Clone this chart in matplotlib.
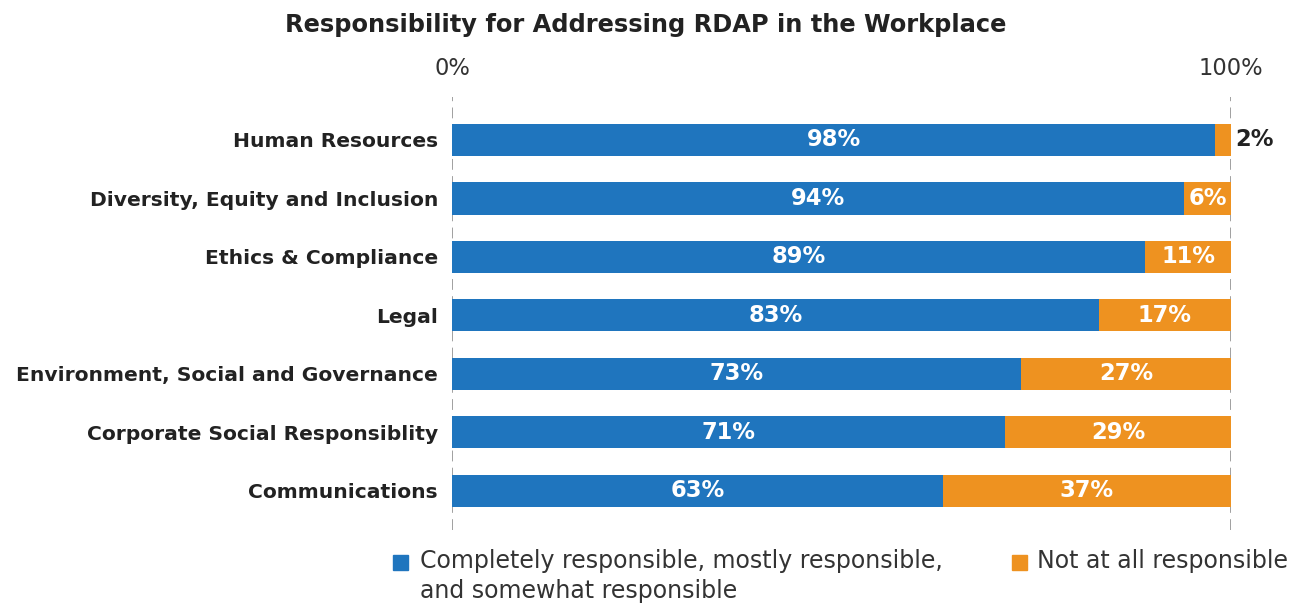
import matplotlib
matplotlib.use('Agg')
import matplotlib.pyplot as plt
from matplotlib.patches import Rectangle

categories = [
    'Human Resources',
    'Diversity, Equity and Inclusion',
    'Ethics & Compliance',
    'Legal',
    'Environment, Social and Governance',
    'Corporate Social Responsiblity',
    'Communications',
]
responsible = [98, 94, 89, 83, 73, 71, 63]
not_responsible = [2, 6, 11, 17, 27, 29, 37]
legend_labels = ['Completely responsible, mostly responsible,\nand somewhat responsible',
                 'Not at all responsible']

BLUE = '#1f75be'
ORANGE = '#ee9220'
DARK = '#222222'

plt.rcParams['font.family'] = ['DejaVu Sans']

fig = plt.figure(figsize=(12.99, 6.03), dpi=100)
ax = fig.add_axes([452 / 1299, 73 / 603, 779 / 1299, 433 / 603])

y = list(range(len(categories)))
ax.barh(y, responsible, height=0.55, color=BLUE)
ax.barh(y, not_responsible, left=responsible, height=0.55, color=ORANGE)

for i, (a, b) in enumerate(zip(responsible, not_responsible)):
    ax.text(a / 2, i, f'{a}%', ha='center', va='center', color='white',
            fontsize=16.3, fontweight='bold')
    if b >= 5:
        ax.text(a + b / 2, i, f'{b}%', ha='center', va='center', color='white',
                fontsize=16.3, fontweight='bold')
    else:
        ax.text(100.6, i, f'{b}%', ha='left', va='center', color=DARK,
                fontsize=16.3, fontweight='bold')

# dashed guides at 0% and 100%
for xv in (0, 100):
    ax.axvline(xv, color='#999999', lw=1.3, ls=(0, (6, 3.5)), zorder=0)

ax.set_xlim(0, 100)
ax.set_ylim(6.67, -0.735)
ax.set_yticks(y)
ax.set_yticklabels(categories, fontsize=14.6, fontweight='bold', color=DARK)
ax.set_xticks([0, 100])
ax.set_xticklabels(['0%', '100%'], fontsize=16.3, color='#333333')
ax.xaxis.tick_top()
ax.tick_params(axis='both', length=0)
ax.tick_params(axis='x', pad=12)
ax.tick_params(axis='y', pad=10)
for s in ax.spines.values():
    s.set_visible(False)

fig.text(646 / 1299, 1 - 25 / 603, 'Responsibility for Addressing RDAP in the Workplace',
         ha='center', va='center', fontsize=17.4, fontweight='bold', color=DARK)

# legend drawn by hand
sq = 15
fig.patches.append(Rectangle((393 / 1299, 1 - 570 / 603), sq / 1299, sq / 603,
                             transform=fig.transFigure, color=BLUE))
fig.text(420 / 1299, 1 - 549 / 603, legend_labels[0], ha='left', va='top',
         fontsize=17, color='#333333', linespacing=1.3)
fig.patches.append(Rectangle((1012 / 1299, 1 - 570 / 603), sq / 1299, sq / 603,
                             transform=fig.transFigure, color=ORANGE))
fig.text(1037 / 1299, 1 - 549 / 603, legend_labels[1], ha='left', va='top',
         fontsize=17, color='#333333')

fig.savefig('out.png', dpi=100)
